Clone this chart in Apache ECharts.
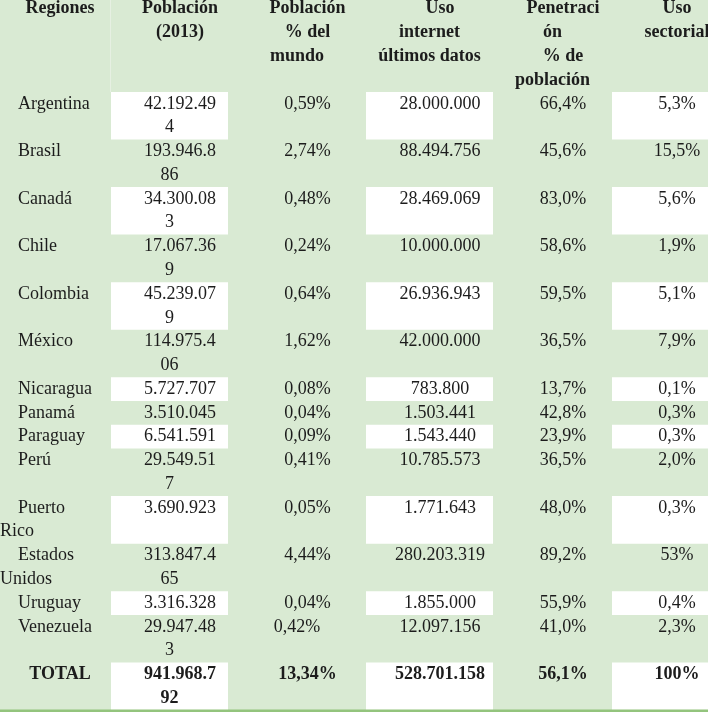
<!DOCTYPE html>
<html>
<head>
<meta charset="utf-8">
<script src="https://cdn.jsdelivr.net/npm/echarts@6/dist/echarts.min.js"></script>
<style>
  html, body { margin: 0; padding: 0; background: #d9ead3; }
  #main { width: 708px; height: 712px; }
</style>
</head>
<body>
<div id="main"></div>
<script>
// datos de la tabla
var regiones = ['Argentina', 'Brasil', 'Canadá', 'Chile', 'Colombia', 'México', 'Nicaragua', 'Panamá', 'Paraguay', 'Perú', 'Puerto Rico', 'Estados Unidos', 'Uruguay', 'Venezuela', 'TOTAL'];
var poblacion = ['42.192.494', '193.946.886', '34.300.083', '17.067.369', '45.239.079', '114.975.406', '5.727.707', '3.510.045', '6.541.591', '29.549.517', '3.690.923', '313.847.465', '3.316.328', '29.947.483', '941.968.792'];
var pctMundo = ['0,59%', '2,74%', '0,48%', '0,24%', '0,64%', '1,62%', '0,08%', '0,04%', '0,09%', '0,41%', '0,05%', '4,44%', '0,04%', '0,42%', '13,34%'];
var usoInternet = ['28.000.000', '88.494.756', '28.469.069', '10.000.000', '26.936.943', '42.000.000', '783.800', '1.503.441', '1.543.440', '10.785.573', '1.771.643', '280.203.319', '1.855.000', '12.097.156', '528.701.158'];
var penetracion = ['66,4%', '45,6%', '83,0%', '58,6%', '59,5%', '36,5%', '13,7%', '42,8%', '23,9%', '36,5%', '48,0%', '89,2%', '55,9%', '41,0%', '56,1%'];
var usoSectorial = ['5,3%', '15,5%', '5,6%', '1,9%', '5,1%', '7,9%', '0,1%', '0,3%', '0,3%', '2,0%', '0,3%', '53%', '0,4%', '2,3%', '100%'];
var encabezados = [
  ['Regiones'],
  ['Población', '(2013)'],
  ['Población', '% del\nmundo'],
  ['Uso\ninternet\núltimos datos'],
  ['Penetraci\nón', '% de\npoblación'],
  ['Uso', 'sectorial']
];

// layout
var columnas = [regiones, poblacion, pctMundo, usoInternet, penetracion, usoSectorial];
var anchos = [111, 117, 138, 127, 119, 109];
var colBlancas = [1, 3, 5];
var altoCabecera = 92;
var altoLinea = 23.77;
var sangria = 21;
var sinSangria = [[13, 2]];
var FONT = '"Liberation Serif", "Times New Roman", serif';
var TEXTO = '#1c1c1c';

function partirCaracteres(s, n) {
  var out = [];
  for (var i = 0; i < s.length; i += n) out.push(s.slice(i, i + n));
  return out;
}

function partirPalabras(s, n) {
  return s.length > n ? s.split(' ') : [s];
}

function parrafos(col, row) {
  if (row < 0) {
    return encabezados[col].map(function (p) { return p.split('\n') });
  }
  var v = columnas[col][row];
  if (col === 0) return [partirPalabras(v, 10)];
  if (col === 1) return [partirCaracteres(v, 9)];
  return [[v]];
}

var bordes = [0];
anchos.forEach(function (w, i) { bordes.push(bordes[i] + w) });

var cells = [];
var y = altoCabecera;
// cabecera
for (var c = 0; c < anchos.length; c++) {
  cells.push({ col: c, row: -1, x0: bordes[c], x1: bordes[c + 1], y0: 0, y1: altoCabecera, textTop: altoCabecera - 4 * altoLinea });
}
for (var r = 0; r < regiones.length; r++) {
  var n = 1;
  for (var c2 = 0; c2 < anchos.length; c2++) {
    var ls = 0;
    parrafos(c2, r).forEach(function (p) { ls += p.length });
    n = Math.max(n, ls);
  }
  for (var c3 = 0; c3 < anchos.length; c3++) {
    cells.push({ col: c3, row: r, x0: bordes[c3], x1: bordes[c3 + 1], y0: y, y1: y + n * altoLinea, textTop: y });
  }
  y += n * altoLinea;
}

function esSinSangria(row, col) {
  return sinSangria.some(function (q) { return q[0] === row && q[1] === col });
}

var myChart = echarts.init(document.getElementById('main'));
var option = {
  backgroundColor: '#d9ead3',
  animation: false,
  grid: { left: 0, right: 0, top: 0, bottom: 0 },
  xAxis: { type: 'value', min: 0, max: 708, show: false },
  yAxis: { type: 'value', min: 0, max: 712, inverse: true, show: false },
  series: [{
    type: 'custom',
    data: cells.map(function (d) { return [d.x0, d.y0, d.x1, d.y1, d.textTop] }),
    renderItem: function (params, api) {
      var d = cells[params.dataIndex];
      var p0 = api.coord([api.value(0), api.value(1)]);
      var p1 = api.coord([api.value(2), api.value(3)]);
      var top = api.coord([0, api.value(4)])[1];
      var lh = api.size([0, altoLinea])[1];
      var children = [];
      var ultima = d.row === regiones.length - 1;
      var cabecera = d.row < 0;
      if (!cabecera && d.row % 2 === 0 && colBlancas.indexOf(d.col) >= 0) {
        children.push({ type: 'rect', shape: { x: p0[0], y: p0[1], width: p1[0] - p0[0], height: p1[1] - p0[1] }, style: { fill: '#ffffff' } });
      }
      if (cabecera && d.col === 0) {
        children.push({ type: 'rect', shape: { x: p1[0] - 1, y: p0[1], width: 1, height: p1[1] - p0[1] }, style: { fill: '#e6f0e2' } });
      }
      if (ultima) {
        children.push({ type: 'rect', shape: { x: p0[0], y: p1[1] - 0.5, width: p1[0] - p0[0], height: 3 }, style: { fill: '#93c47d' } });
      }
      var bold = cabecera || ultima;
      var font = (bold ? 'bold ' : '') + '18px ' + FONT;
      var cx = (p0[0] + p1[0]) / 2;
      var k = 0;
      parrafos(d.col, d.row).forEach(function (p) {
        p.forEach(function (line, j) {
          var x, align = 'center';
          if (d.col === 0) {
            if (cabecera || ultima) {
              x = cx + 4.5;
            } else {
              align = 'left';
              x = p0[0] + (j === 0 ? 18 : 0);
            }
          } else {
            x = cx + (j === 0 && !esSinSangria(d.row, d.col) ? sangria / 2 : 0);
          }
          children.push({
            type: 'text',
            style: { text: line, x: x, y: top + lh * (k + 0.5), align: align, verticalAlign: 'middle', font: font, fill: TEXTO }
          });
          k++;
        });
      });
      return { type: 'group', children: children };
    }
  }]
};
myChart.setOption(option);
window.addEventListener('resize', function () {
  myChart.resize()
});
</script>
</body>
</html>
